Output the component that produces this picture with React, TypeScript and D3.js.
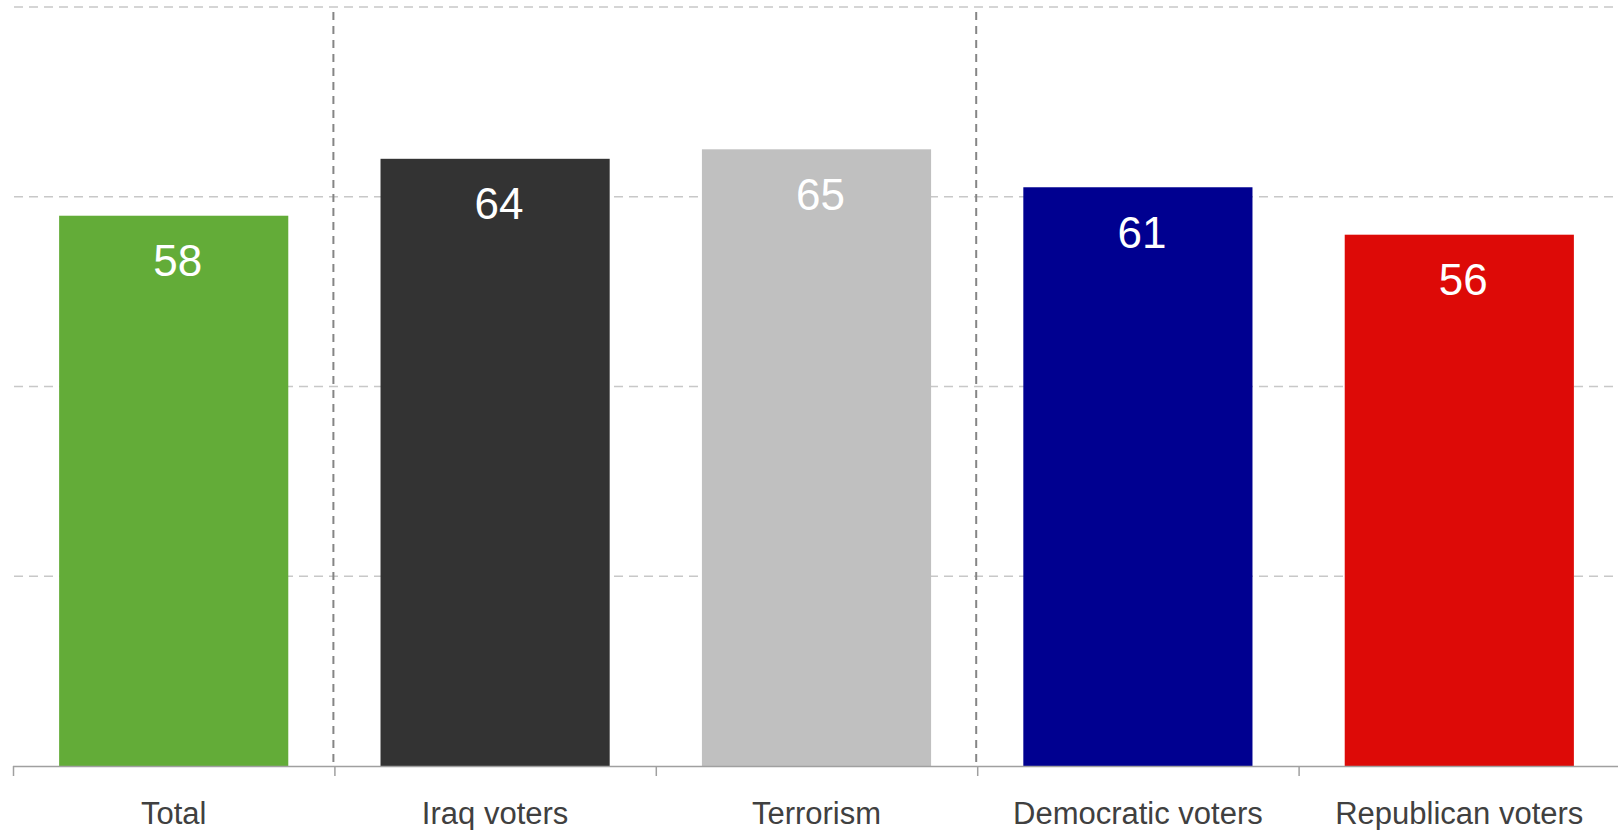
import React from "react";
import * as d3 from "d3";

const categories = ["Total", "Iraq voters", "Terrorism", "Democratic voters", "Republican voters"];
const values = [58, 64, 65, 61, 56];
const colors = ["#63ac38", "#333333", "#c0c0c0", "#000090", "#dd0a07"];
const gridTicks = [20, 40, 60, 80];
const dividerAfter = ["Total", "Terrorism"];

const W = 1618;
const H = 830;

export default function App() {
  const x = d3.scaleBand<string>().domain(categories).range([13, 1620]).paddingInner(0.287).paddingOuter(0.1435);
  const band = d3.scaleBand<string>().domain(categories).range([13, 1620]);
  const y = d3.scaleLinear().domain([0, 80]).range([766, 7]);
  const font = "'Liberation Sans', Arial, sans-serif";

  return (
    <svg
      width={W}
      height={H}
      style={{ position: "absolute", left: 0, top: 0, background: "#fff" }}
      fontFamily={font}
    >
      {gridTicks.map((t) => (
        <line
          key={t}
          x1={14}
          x2={W}
          y1={y(t)}
          y2={y(t)}
          stroke="#c8c8c8"
          strokeWidth={1.5}
          strokeDasharray="9,6"
        />
      ))}
      {dividerAfter.map((c) => {
        const xx = (band(c) as number) + band.bandwidth() - 1;
        return (
          <line
            key={c}
            x1={xx}
            x2={xx}
            y1={12}
            y2={766}
            stroke="#858585"
            strokeWidth={2}
            strokeDasharray="8,6"
          />
        );
      })}
      {categories.map((c, i) => (
        <g key={c}>
          <rect
            x={x(c)}
            y={y(values[i])}
            width={x.bandwidth()}
            height={y(0) - y(values[i])}
            fill={colors[i]}
          />
          <text
            x={(x(c) as number) + x.bandwidth() / 2}
            dx={4}
            y={y(values[i]) + 60.5}
            textAnchor="middle"
            fill="#ffffff"
            fontSize={44}
          >
            {values[i]}
          </text>
        </g>
      ))}
      <line x1={13} x2={W} y1={766.5} y2={766.5} stroke="#a0a0a0" strokeWidth={1.5} />
      {categories.map((c) => (
        <line
          key={"t" + c}
          x1={(band(c) as number) + 0.5}
          x2={(band(c) as number) + 0.5}
          y1={766}
          y2={776}
          stroke="#a0a0a0"
          strokeWidth={1.5}
        />
      ))}
      {categories.map((c) => (
        <text
          key={"l" + c}
          x={(band(c) as number) + band.bandwidth() / 2}
          y={824}
          textAnchor="middle"
          fill="#404040"
          fontSize={31}
        >
          {c}
        </text>
      ))}
    </svg>
  );
}
